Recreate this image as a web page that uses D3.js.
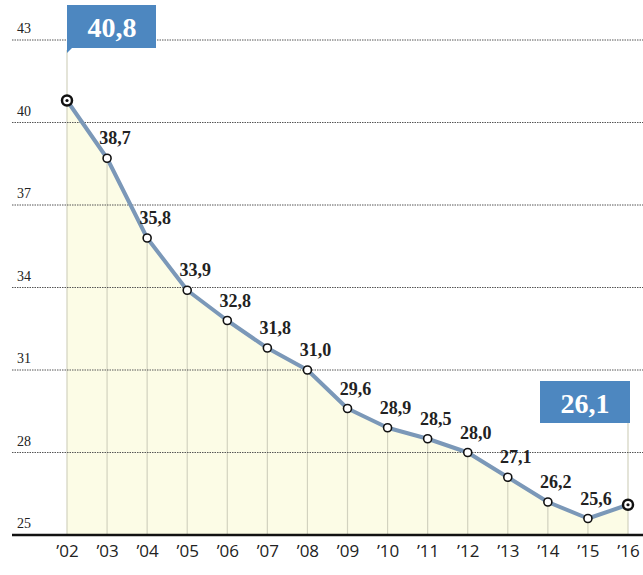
<!DOCTYPE html>
<html>
<head>
<meta charset="utf-8">
<script src="https://cdn.jsdelivr.net/npm/d3@7"></script>
<style>
  body { margin: 0; background: #fff; }
  svg { display: block; }
</style>
</head>
<body>
<script>
var years = ["’02", "’03", "’04", "’05", "’06", "’07", "’08", "’09", "’10", "’11", "’12", "’13", "’14", "’15", "’16"];
var values = [40.8, 38.7, 35.8, 33.9, 32.8, 31.8, 31.0, 29.6, 28.9, 28.5, 28.0, 27.1, 26.2, 25.6, 26.1];
var yTicks = [25, 28, 31, 34, 37, 40, 43];

var width = 643, height = 575;
var serif = "'Liberation Serif', 'DejaVu Serif', serif";
var fmt = function(v) { return d3.format(".1f")(v).replace(".", ","); };

var svg = d3.select("body").append("svg")
    .attr("width", width)
    .attr("height", height);

var x = d3.scalePoint().domain(years).range([67, 628]);
var y = d3.scaleLinear().domain([25, 43]).range([535, 40]);

var data = years.map(function(d, i) { return { year: d, value: values[i] }; });

// area under line
svg.append("path")
    .datum(data)
    .attr("fill", "#fcfce6")
    .attr("d", d3.area()
        .x(function(d) { return x(d.year); })
        .y0(y(25))
        .y1(function(d) { return y(d.value); }));

// vertical drop lines
svg.selectAll(".drop")
    .data(data)
    .enter()
    .append("line")
    .attr("x1", function(d) { return x(d.year); })
    .attr("x2", function(d) { return x(d.year); })
    .attr("y1", function(d, i) {
        if (i === 0) return 50;
        if (i === data.length - 1) return 423;
        return y(d.value);
    })
    .attr("y2", y(25))
    .attr("stroke", "#d2d2bf")
    .attr("stroke-width", 1.2);

// gridlines
svg.selectAll(".grid")
    .data(yTicks.slice(1))
    .enter()
    .append("line")
    .attr("x1", 12)
    .attr("x2", width)
    .attr("y1", function(d) { return y(d); })
    .attr("y2", function(d) { return y(d); })
    .attr("stroke", "#555")
    .attr("stroke-width", 1)
    .attr("stroke-dasharray", "1.5,1");

// y labels
svg.selectAll(".ylab")
    .data(yTicks)
    .enter()
    .append("text")
    .attr("x", 17)
    .attr("y", function(d) { return y(d) - 7; })
    .attr("font-family", serif)
    .attr("font-size", 14)
    .attr("fill", "#222")
    .text(function(d) { return d; });

// baseline / x axis
var xAxis = svg.append("g")
    .attr("transform", "translate(0," + y(25) + ")")
    .call(d3.axisBottom(x).tickSize(0).tickPadding(10));
xAxis.select(".domain").remove();
xAxis.selectAll("text")
    .attr("font-family", "Open Sans")
    .attr("font-size", 17)
    .attr("fill", "#222");
svg.append("line")
    .attr("x1", 12)
    .attr("x2", width)
    .attr("y1", y(25))
    .attr("y2", y(25))
    .attr("stroke", "#111")
    .attr("stroke-width", 2.5);

// line
svg.append("path")
    .datum(data)
    .attr("fill", "none")
    .attr("stroke", "#7b98b8")
    .attr("stroke-width", 4)
    .attr("stroke-linejoin", "round")
    .attr("d", d3.line()
        .x(function(d) { return x(d.year); })
        .y(function(d) { return y(d.value); }));

// inner points
var inner = data.slice(1, data.length - 1);
svg.selectAll(".pt")
    .data(inner)
    .enter()
    .append("circle")
    .attr("cx", function(d) { return x(d.year); })
    .attr("cy", function(d) { return y(d.value); })
    .attr("r", 4)
    .attr("fill", "#fff")
    .attr("stroke", "#111")
    .attr("stroke-width", 1.6);

// value labels
svg.selectAll(".vlab")
    .data(inner)
    .enter()
    .append("text")
    .attr("x", function(d) { return x(d.year) + 8; })
    .attr("y", function(d) { return y(d.value) - 14; })
    .attr("text-anchor", "middle")
    .attr("font-family", serif)
    .attr("font-weight", "bold")
    .attr("font-size", 18)
    .attr("fill", "#222")
    .text(function(d) { return fmt(d.value); });

// end points
var ends = [data[0], data[data.length - 1]];
svg.selectAll(".end")
    .data(ends)
    .enter()
    .append("circle")
    .attr("cx", function(d) { return x(d.year); })
    .attr("cy", function(d) { return y(d.value); })
    .attr("r", 5)
    .attr("fill", "#fff")
    .attr("stroke", "#111")
    .attr("stroke-width", 2.5);
svg.selectAll(".enddot")
    .data(ends)
    .enter()
    .append("circle")
    .attr("cx", function(d) { return x(d.year); })
    .attr("cy", function(d) { return y(d.value); })
    .attr("r", 1.6)
    .attr("fill", "#111");

// callout boxes
var blue = "#4d87c0";
var first = data[0], last = data[data.length - 1];
var bx1 = x(first.year);
svg.append("rect")
    .attr("x", bx1).attr("y", 5)
    .attr("width", 89).attr("height", 43)
    .attr("fill", blue);
svg.append("path")
    .attr("d", "M" + bx1 + ",47 L" + bx1 + ",53 L" + (bx1 + 6) + ",47 Z")
    .attr("fill", blue);
svg.append("text")
    .attr("x", bx1 + 45).attr("y", 37)
    .attr("text-anchor", "middle")
    .attr("font-family", serif)
    .attr("font-weight", "bold")
    .attr("font-size", 28)
    .attr("fill", "#fff")
    .text(fmt(first.value));

var bx2 = x(last.year) + 2;
svg.append("rect")
    .attr("x", bx2 - 90).attr("y", 381)
    .attr("width", 90).attr("height", 42)
    .attr("fill", blue);
svg.append("text")
    .attr("x", bx2 - 45).attr("y", 413)
    .attr("text-anchor", "middle")
    .attr("font-family", serif)
    .attr("font-weight", "bold")
    .attr("font-size", 28)
    .attr("fill", "#fff")
    .text(fmt(last.value));
</script>
</body>
</html>
